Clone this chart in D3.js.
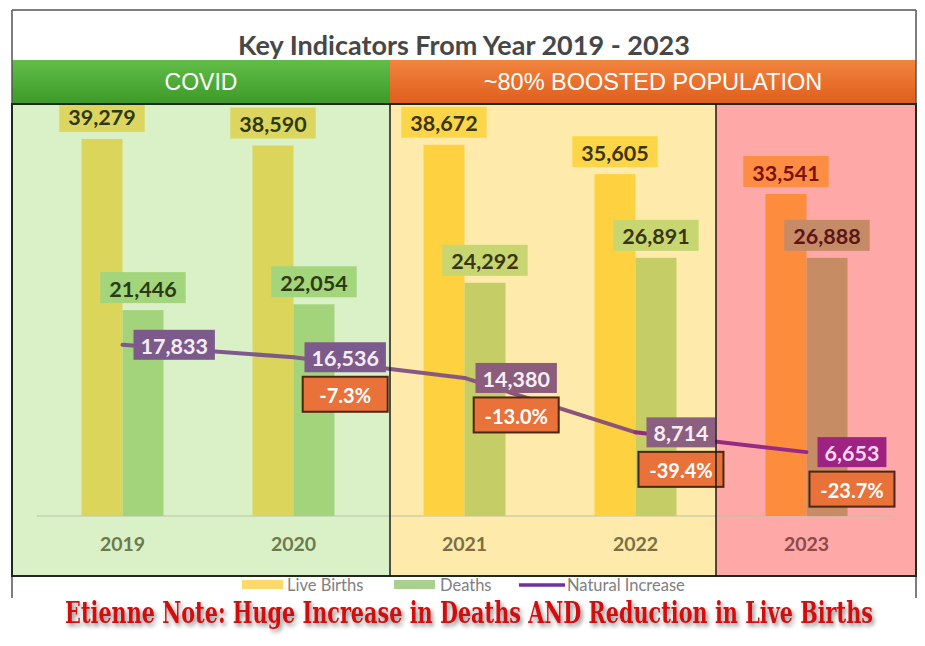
<!DOCTYPE html>
<html><head><meta charset="utf-8">
<script src="https://cdn.jsdelivr.net/npm/d3@7/dist/d3.min.js"></script>
<style>
html,body{margin:0;padding:0;background:#fff;}
svg{display:block;}
</style></head>
<body>
<svg id="chart" width="925" height="646"></svg>
<script>
// ---- data ----
const years = ["2019", "2020", "2021", "2022", "2023"];
const liveBirths = [39279, 38590, 38672, 35605, 33541];
const deaths = [21446, 22054, 24292, 26891, 26888];
const naturalIncrease = [17833, 16536, 14380, 8714, 6653];
const pctChange = [null, -7.3, -13.0, -39.4, -23.7];
const periods = ["COVID", "~80% BOOSTED POPULATION"];
const legendLabels = ["Live Births", "Deaths", "Natural Increase"];
const titleText = "Key Indicators From Year 2019 - 2023";
const noteText = "Etienne Note: Huge Increase in Deaths AND Reduction in Live Births";

// ---- styling per year (panel theme) ----
const theme = {
  "2019": {birth:"#dcd55c", birthLbl:"#dcd660", death:"#a3d47b", deathLbl:"#a2d57c", txt:"#2c3a14", dtxt:"#2c3a14", ni:"#7c5b8c", nitxt:"#f4eef4", axis:"#6c7a4c"},
  "2020": {birth:"#dcd55c", birthLbl:"#dcd660", death:"#a3d47b", deathLbl:"#a2d57c", txt:"#2c3a14", dtxt:"#2c3a14", ni:"#7c5b8c", nitxt:"#f4eef4", axis:"#6c7a4c"},
  "2021": {birth:"#fdd140", birthLbl:"#fdd548", death:"#c4cd66", deathLbl:"#c8d671", txt:"#3a3410", dtxt:"#3a3410", ni:"#8b5c7c", nitxt:"#f6eef2", axis:"#7a6f45"},
  "2022": {birth:"#fdd140", birthLbl:"#fdd548", death:"#c4cd66", deathLbl:"#c8d671", txt:"#3a3410", dtxt:"#3a3410", ni:"#8b5f80", nitxt:"#f6eef2", axis:"#7a6f45"},
  "2023": {birth:"#fd8c3c", birthLbl:"#fc8d42", death:"#c68c63", deathLbl:"#c58a66", txt:"#781212", dtxt:"#5a1616", ni:"#9d2282", nitxt:"#fad6f2", axis:"#8c4a4a"}
};
const segColors = ["#7c5b8c", "#855a82", "#8a5578", "#962a82"];

const svg = d3.select("#chart");
const defs = svg.append("defs");
const gG = defs.append("linearGradient").attr("id","gGreen").attr("x1",0).attr("y1",0).attr("x2",0).attr("y2",1);
gG.append("stop").attr("offset","0%").attr("stop-color","#62bd48");
gG.append("stop").attr("offset","100%").attr("stop-color","#3d9a28");
const gO = defs.append("linearGradient").attr("id","gOrange").attr("x1",0).attr("y1",0).attr("x2",0).attr("y2",1);
gO.append("stop").attr("offset","0%").attr("stop-color","#f2853f");
gO.append("stop").attr("offset","100%").attr("stop-color","#df5d1d");
const sh = defs.append("filter").attr("id","shadow").attr("filterUnits","userSpaceOnUse")
  .attr("x",0).attr("y",585).attr("width",925).attr("height",61);
sh.append("feDropShadow").attr("dx",2).attr("dy",3).attr("stdDeviation",2).attr("flood-color","#000").attr("flood-opacity",0.45);

// ---- layout ----
const L = 12, R = 916, panelTop = 104, panelBot = 576;
const split1 = 390, split2 = 716;

// scales
const x = d3.scaleBand().domain(years).range([37, 892]);
const barW = 41;
const x1 = d3.scaleBand().domain(["births","deaths"])
  .range([x.bandwidth()/2 - barW, x.bandwidth()/2 + barW]);
const y = d3.scaleLinear().domain([0, 40000]).range([516, 132]);
const cx = d => x(d) + x.bandwidth()/2;

// panels
svg.append("rect").attr("x",L).attr("y",panelTop).attr("width",split1-L).attr("height",panelBot-panelTop).attr("fill","#daf0c7");
svg.append("rect").attr("x",split1).attr("y",panelTop).attr("width",split2-split1).attr("height",panelBot-panelTop).attr("fill","#feeaab");
svg.append("rect").attr("x",split2).attr("y",panelTop).attr("width",R-split2).attr("height",panelBot-panelTop).attr("fill","#fea8a8");

// baseline
svg.append("line").attr("x1",x.range()[0]).attr("x2",x.range()[1]).attr("y1",y(0)).attr("y2",y(0))
  .attr("stroke","#b9c2a8").attr("stroke-width",1);

// bars
const g = svg.append("g");
years.forEach((yr,i) => {
  const t = theme[yr];
  g.append("rect").attr("x", x(yr)+x1("births")).attr("width", x1.bandwidth())
    .attr("y", y(liveBirths[i])).attr("height", y(0)-y(liveBirths[i])).attr("fill", t.birth);
  g.append("rect").attr("x", x(yr)+x1("deaths")).attr("width", x1.bandwidth())
    .attr("y", y(deaths[i])).attr("height", y(0)-y(deaths[i])).attr("fill", t.death);
});

// natural increase line (segments)
const line = d3.line().x(d => cx(d[0])).y(d => y(d[1]));
for (let i = 0; i < years.length-1; i++) {
  svg.append("path").attr("d", line([[years[i],naturalIncrease[i]],[years[i+1],naturalIncrease[i+1]]]))
    .attr("fill","none").attr("stroke",segColors[i]).attr("stroke-width",4).attr("stroke-linecap","round");
}

const fmt = d3.format(",");
const lblFont = "Lato, 'Open Sans', sans-serif";

function labelBox(parent, text, cxp, cyp, fill, color, opts={}) {
  const gg = parent.append("g");
  const tx = gg.append("text").text(text).attr("font-family", lblFont).attr("font-weight", 700)
    .attr("font-size", opts.size || 21.5).attr("fill", color).attr("text-anchor","middle")
    .attr("dominant-baseline","central").attr("x", 0).attr("y", 0);
  const w = opts.w || (tx.node().getComputedTextLength() + (opts.pad||18));
  const h = opts.h || 31;
  let left = opts.left !== undefined ? opts.left : cxp - w/2;
  gg.insert("rect","text").attr("x", left).attr("y", cyp - h/2).attr("width", w).attr("height", h)
    .attr("fill", fill).attr("stroke", opts.stroke || "none").attr("stroke-width", opts.sw || 0);
  tx.attr("x", left + w/2).attr("y", cyp + 1);
  return {left, w, h};
}

const labels = svg.append("g");
years.forEach((yr,i) => {
  const t = theme[yr];
  const bx = x(yr)+x1("births")+barW/2;
  labelBox(labels, fmt(liveBirths[i]), bx, y(liveBirths[i]) - 7 - 15.5, t.birthLbl, t.txt);
  const dx = x(yr)+x1("deaths")+barW/2;
  labelBox(labels, fmt(deaths[i]), dx, y(deaths[i]) - 7 - 15.5, t.deathLbl, t.dtxt);
  const px = cx(yr), py = y(naturalIncrease[i]);
  const nb = labelBox(labels, fmt(naturalIncrease[i]), 0, py, t.ni, t.nitxt, {left: px + 11, h: 30, pad: 14});
  if (pctChange[i] !== null) {
    const c = nb.left + nb.w/2;
    labelBox(labels, pctChange[i].toFixed(1) + "%", c, py + 15 + 4 + 18, "#e8723a", "#ffffff",
      {w: 85, h: 35, stroke: "#4a2710", sw: 2, size: 20});
  }
  svg.append("text").attr("x", cx(yr)).attr("y", 543).text(yr)
    .attr("font-family", lblFont).attr("font-weight", 700).attr("font-size", 19.5)
    .attr("fill", t.axis).attr("text-anchor","middle").attr("dominant-baseline","central");
});

// header bands
svg.append("rect").attr("x",L).attr("y",60).attr("width",split1-L).attr("height",panelTop-60).attr("fill","url(#gGreen)");
svg.append("rect").attr("x",split1).attr("y",60).attr("width",R-split1).attr("height",panelTop-60).attr("fill","url(#gOrange)");
svg.append("text").attr("x",(L+split1)/2).attr("y",82).text(periods[0])
  .attr("font-family","'Liberation Sans', Arial, sans-serif").attr("font-size",23).attr("fill","#fff")
  .attr("text-anchor","middle").attr("dominant-baseline","central");
svg.append("text").attr("x",653).attr("y",82).text(periods[1])
  .attr("font-family","'Liberation Sans', Arial, sans-serif").attr("font-size",23.5).attr("fill","#fff")
  .attr("text-anchor","middle").attr("dominant-baseline","central");

// white title area
svg.append("rect").attr("x",L).attr("y",10).attr("width",R-L).attr("height",50).attr("fill","#fff");
svg.append("text").attr("x",464).attr("y",44).text(titleText)
  .attr("font-family", lblFont).attr("font-weight",700).attr("font-size",27).attr("fill","#474747")
  .attr("text-anchor","middle").attr("dominant-baseline","central");

// frame lines
const fr = svg.append("g").attr("fill","none");
fr.append("line").attr("x1",L).attr("x2",R).attr("y1",10).attr("y2",10).attr("stroke","#555").attr("stroke-width",1.5);
fr.append("line").attr("x1",L).attr("x2",L).attr("y1",10).attr("y2",598).attr("stroke","#555").attr("stroke-width",1.5);
fr.append("line").attr("x1",R).attr("x2",R).attr("y1",10).attr("y2",598).attr("stroke","#555").attr("stroke-width",1.5);
fr.append("rect").attr("x",L).attr("y",panelTop).attr("width",R-L).attr("height",panelBot-panelTop)
  .attr("stroke","#1d2a1d").attr("stroke-width",2);
fr.append("line").attr("x1",split1).attr("x2",split1).attr("y1",panelTop).attr("y2",panelBot).attr("stroke","#1a1a1a").attr("stroke-width",1.5);
fr.append("line").attr("x1",split2).attr("x2",split2).attr("y1",panelTop).attr("y2",panelBot).attr("stroke","#1a1a1a").attr("stroke-width",1.5);

// legend
const lg = svg.append("g").attr("font-family", lblFont).attr("font-size",16.5).attr("fill","#808080");
lg.append("rect").attr("x",242).attr("y",580).attr("width",41).attr("height",9).attr("fill","#fdd86b");
lg.append("text").attr("x",287).attr("y",585).text(legendLabels[0]).attr("dominant-baseline","central");
lg.append("rect").attr("x",394).attr("y",580).attr("width",41).attr("height",9).attr("fill","#a9d08e");
lg.append("text").attr("x",440).attr("y",585).text(legendLabels[1]).attr("dominant-baseline","central");
lg.append("line").attr("x1",519).attr("x2",565).attr("y1",585).attr("y2",585).attr("stroke","#7030a0").attr("stroke-width",3.5);
lg.append("text").attr("x",567).attr("y",585).text(legendLabels[2]).attr("dominant-baseline","central");

// note: condensed slab look, squeezed horizontally to the reference width
const noteG = svg.append("g").attr("filter","url(#shadow)");
const note = noteG.append("text").attr("x",0).attr("y",0).text(noteText)
  .attr("font-family","'DejaVu Serif', serif")
  .attr("font-weight",700).attr("font-size",29).attr("fill","#d20e0e")
  .attr("text-anchor","middle");
const nw = note.node().getComputedTextLength();
const sx = 808 / nw;
note.attr("transform", `translate(469,623) scale(${sx},1)`);
</script>
</body></html>
